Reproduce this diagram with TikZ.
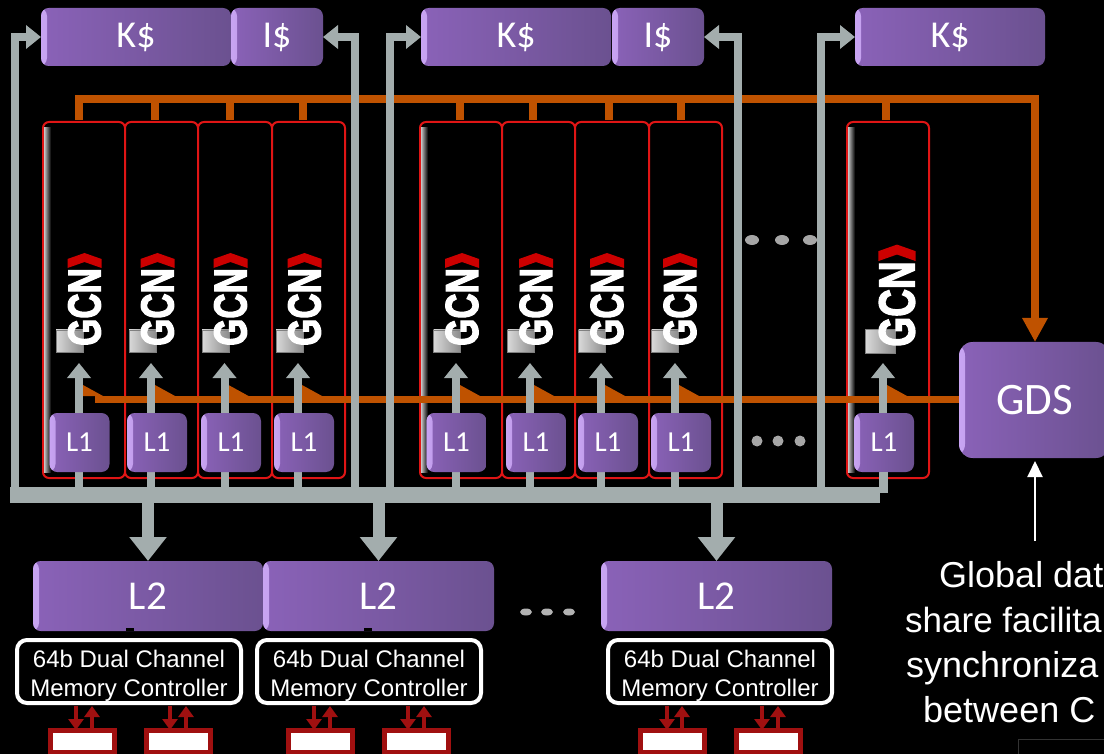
\documentclass[tikz,border=0pt]{standalone}
\usepackage{fontspec}
\setmainfont{Carlito}
\newfontfamily\arialfont{Liberation Sans}
\newfontfamily\gcnfont[BoldFeatures={FakeBold=3}]{Liberation Sans}
\usetikzlibrary{arrows.meta}
\definecolor{railgray}{HTML}{A3ADAD}
\definecolor{gdsorange}{HTML}{BF5200}
\definecolor{cacheleft}{HTML}{8A62B8}
\definecolor{cacheright}{HTML}{6B5190}
\definecolor{cachehi}{HTML}{C8A4F2}
\definecolor{stripred}{HTML}{E01515}
\definecolor{dimmred}{HTML}{A01010}
\tikzset{
  cachebox/.style={rectangle,rounded corners=8pt,inner sep=0pt,outer sep=0pt,text=white,
    left color=cacheleft,right color=cacheright,
    path picture={\shade[left color=cachehi,right color=cacheleft]
      (path picture bounding box.north west) rectangle ([xshift=6pt]path picture bounding box.south west);}},
  corestrip/.style={rectangle,rounded corners=6pt,draw=stripred,line width=2pt,fill=black,
    inner sep=0pt,outer sep=0pt,minimum height=356pt},
  memctl/.style={rectangle,rounded corners=10pt,draw=white,line width=4pt,text=white,align=center,
    inner sep=0pt,minimum width=224pt,minimum height=63pt,
    font=\arialfont\fontsize{24}{29}\selectfont},
  dimmbox/.style={rectangle,draw=dimmred,line width=5pt,fill=white,inner sep=0pt,outer sep=0pt,
    minimum width=64pt,minimum height=22pt},
  railline/.style={draw=railgray,line width=8pt},
  railarrow/.style={railline,-{Triangle[length=15pt,width=23pt]}},
  droparrow/.style={draw=railgray,line width=12pt,-{Triangle[length=24pt,width=36pt]}},
  ordline/.style={draw=gdsorange,line width=8pt},
  ordarrow/.style={ordline,-{Triangle[length=24pt,width=24pt]}},
  redarrow/.style={draw=dimmred,line width=4pt,-{Triangle[length=11pt,width=15pt]}},
  l1font/.style={font=\fontsize{29}{30}\selectfont},
  gcn/.pic={
    \shade[left color=gray!30,right color=gray!90,draw=gray] (-28.5,23) rectangle (-1.5,45);
    \node[rotate=90,xscale=0.76,transform shape,inner sep=0pt,text=white,
      font=\gcnfont\bfseries\fontsize{46}{46}\selectfont] (-txt) at (0,0) {GCN};
    \fill[red!80!black] (0,-54) -- (17,-48) -- (17,-39) -- (0,-45) -- (-17,-39) -- (-17,-48) -- cycle;
  }
}
\begin{document}
\begin{tikzpicture}[x=1pt,y=-1pt]
  \useasboundingbox (0,0) rectangle (1104,754);
  \clip (0,0) rectangle (1104,754);
  \fill[black] (0,0) rectangle (1104,754);
  % core strips
  \foreach \n/\cx/\w in {1/84/82,2/161.5/73,3/235/74,4/308.5/73,5/461/82,6/538.5/73,7/612/74,8/685.5/73,9/888/82}
    \node[corestrip,minimum width=\w pt] (core\n) at (\cx,300) {};
  \foreach \n in {1,5,9}
    \shade[left color=gray!45,right color=black] ([xshift=1pt,yshift=-6pt]core\n.north west) rectangle ([xshift=8pt,yshift=6pt]core\n.south west);
  % caches on top
  \node[cachebox,minimum width=190pt,minimum height=58pt,font=\fontsize{38}{40}\selectfont] (ka) at (136,37) {K\$};
  \node[cachebox,minimum width=92pt,minimum height=58pt,font=\fontsize{38}{40}\selectfont] (ia) at (277,37) {I\$};
  \node[cachebox,minimum width=190pt,minimum height=58pt,font=\fontsize{38}{40}\selectfont] (kb) at (516,37) {K\$};
  \node[cachebox,minimum width=92pt,minimum height=58pt,font=\fontsize{38}{40}\selectfont] (ib) at (658,37) {I\$};
  \node[cachebox,minimum width=190pt,minimum height=58pt,font=\fontsize{38}{40}\selectfont] (kc) at (950,37) {K\$};
  % GDS
  \node[cachebox,rounded corners=14pt,minimum width=151pt,minimum height=116pt,font=\fontsize{45}{46}\selectfont] (gds) at (1034.5,400) {GDS};
  % orange links
  \coordinate (ordstart) at (79,120);
  \coordinate (ordcorner) at (1035,99);
  \draw[ordarrow] (ordstart) |- (ordcorner) -- (ordcorner |- gds.north);
  \foreach \n/\sx in {1/155,2/230,3/303,4/460,5/533,6/609,7/681,8/886}{
    \coordinate (ordtap\n) at (\sx,120);
    \draw[ordline] (ordtap\n) -- (ordtap\n |- ordcorner);
  }
  \coordinate (ordlow) at (95,399.5);
  \draw[draw=gdsorange,line width=7pt] (ordlow) -- (ordlow -| gds.west);
  % logos
  \foreach \n/\gx in {1/84.5,2/157.5,3/230.5,4/304.5,5/462,6/536,7/607,8/680}
    \pic (logo\n) at (\gx,307) {gcn};
  \pic[scale=1.1] (logo9) at (897,304) {gcn};
  % wedges, L1 and their arrows
  \node[rectangle,fill=railgray,inner sep=0pt,outer sep=0pt,minimum width=870pt,minimum height=16pt] (bus) at (445,495) {};
  \foreach \n/\ax/\lx in {1/79/79.5,2/151/157,3/224.5/231,4/298/304,5/456/456.5,6/530/536,7/601/608,8/675/681,9/883/884}{
    \fill[gdsorange] (\ax+4,385) -- (\ax+24,396) -- (\ax+4,396) -- cycle;
    \coordinate (tip\n) at (\ax,363);
    \draw[railarrow] (tip\n |- bus.north) -- (tip\n);
    \node[cachebox,l1font,minimum width=60pt,minimum height=59pt] (lone\n) at (\lx,442.5) {L1};
  }
  \coordinate (lastdrop) at (883.5,493);
  \draw[railline] (lone9.south -| lastdrop) -- (lastdrop);
  % rails
  \foreach \n/\rx/\to in {1/15/ka.west,2/355/ia.east,3/389.5/kb.west,4/738/ib.east,5/821/kc.west}{
    \coordinate (rail\n) at (\rx,490);
    \draw[railarrow] (rail\n) |- (\to);
  }
  % dots
  \foreach \dx in {752,782,810}
    \fill[gray!70] (\dx,240) ellipse (7 and 5);
  \foreach \dx in {757,778,800}
    \fill[gray!70] (\dx,441) circle (5.5);
  \foreach \dx in {526,547,569}
    \fill[gray!60] (\dx,612) ellipse (6 and 3.5);
  % L2
  \node[cachebox,minimum width=230pt,minimum height=70pt,font=\fontsize{41}{42}\selectfont] (ltwoa) at (148,596) {L2};
  \node[cachebox,minimum width=231pt,minimum height=70pt,font=\fontsize{41}{42}\selectfont] (ltwob) at (378.5,596) {L2};
  \node[cachebox,minimum width=231pt,minimum height=70pt,font=\fontsize{41}{42}\selectfont] (ltwoc) at (716.5,596) {L2};
  \foreach \dst in {ltwoa,ltwob,ltwoc}
    \draw[droparrow] (bus.south -| \dst.north) -- (\dst.north);
  \foreach \nx in {129.5,368}
    \fill[black] (\nx-4,628) rectangle (\nx+4,631);
  % memory controllers
  \node[memctl] (mca) at (129,671.5) {\rule{0pt}{25pt}64b Dual Channel\\Memory Controller};
  \node[memctl] (mcb) at (369,671.5) {\rule{0pt}{25pt}64b Dual Channel\\Memory Controller};
  \node[memctl] (mcc) at (720,671.5) {\rule{0pt}{25pt}64b Dual Channel\\Memory Controller};
  % DIMMs
  \foreach \n/\cx/\dn/\up in {1/82.5/76/92,2/178.5/170/186,3/320.5/314/330,4/416.5/408/424,5/672.5/667/682,6/768.5/762/778}{
    \node[dimmbox] (dimm\n) at (\cx,741) {};
    \coordinate (dn\n) at (\dn,706);
    \coordinate (up\n) at (\up,706);
    \draw[redarrow] (dn\n) -- (dn\n |- dimm\n.north);
    \draw[redarrow] (up\n |- dimm\n.north) -- (up\n);
  }
  % note on the right
  \coordinate (notetop) at (1035,541);
  \draw[white,line width=2pt,shorten >=3pt,-{Triangle[length=16pt,width=15pt]}] (notetop) -- (notetop |- gds.south);
  \foreach \n/\tx/\ty/\fs/\txt in {1/939/587/36/Global dat,2/905/632/35/share facilita,3/906/677/36/synchroniza,4/923/722/36/between C}
    \node[anchor=base west,inner sep=0pt,text=white,font=\arialfont\fontsize{\fs}{36}\selectfont] (note\n) at (\tx,\ty) {\txt};
  \draw[gray!40!black,line width=1pt] (1018,754) -- (1018,739) -- (1104,739);
\end{tikzpicture}
\end{document}
